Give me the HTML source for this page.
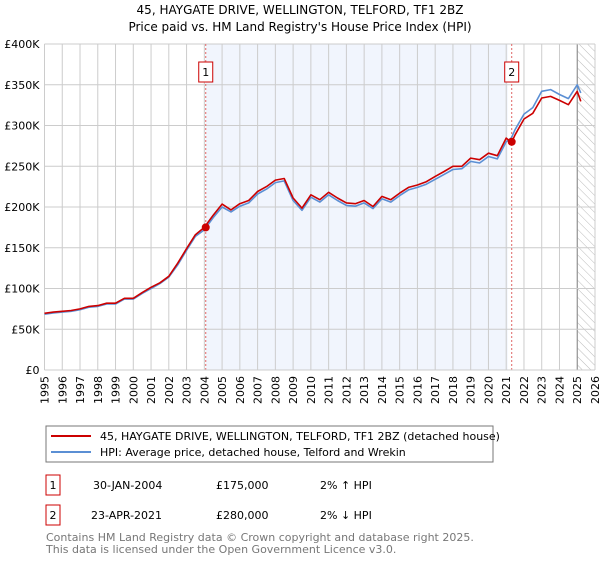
<!DOCTYPE html>
<html><head><meta charset="utf-8">
<style>
body{margin:0;background:#fff;font-family:"Liberation Sans","DejaVu Sans",sans-serif;}
svg text{font-family:"DejaVu Sans","Liberation Sans",sans-serif;}
</style></head>
<body>
<svg id="chart" width="600" height="560" xmlns="http://www.w3.org/2000/svg">
<rect width="600" height="560" fill="#fff"/>
<text x="300" y="14" font-size="12" text-anchor="middle">45, HAYGATE DRIVE, WELLINGTON, TELFORD, TF1 2BZ</text>
<text x="300" y="31" font-size="12" text-anchor="middle">Price paid vs. HM Land Registry's House Price Index (HPI)</text>
<g id="plot"></g>
<g>
<rect x="46" y="426" width="447" height="36" fill="#fff" stroke="#777"/>
<line x1="51" y1="436" x2="91" y2="436" stroke="#cc0000" stroke-width="2"/>
<text x="100" y="440" font-size="11">45, HAYGATE DRIVE, WELLINGTON, TELFORD, TF1 2BZ (detached house)</text>
<line x1="51" y1="452" x2="91" y2="452" stroke="#5b8fd4" stroke-width="2"/>
<text x="100" y="456" font-size="11">HPI: Average price, detached house, Telford and Wrekin</text>
</g>
<g font-size="11">
<rect x="46" y="475" width="14" height="20" fill="#fff" stroke="#cc0000"/>
<text x="53" y="489" text-anchor="middle">1</text>
<text x="93" y="489">30-JAN-2004</text>
<text x="216" y="489">£175,000</text>
<text x="320" y="489">2% ↑ HPI</text>
<rect x="46" y="505" width="14" height="20" fill="#fff" stroke="#cc0000"/>
<text x="53" y="519" text-anchor="middle">2</text>
<text x="91" y="519">23-APR-2021</text>
<text x="216" y="519">£280,000</text>
<text x="320" y="519">2% ↓ HPI</text>
</g>
<text x="46" y="541" font-size="11" fill="#777">Contains HM Land Registry data © Crown copyright and database right 2025.</text>
<text x="46" y="553" font-size="11" fill="#777">This data is licensed under the Open Government Licence v3.0.</text>
</svg>
<script>
const years=[1995,1995.5,1996,1996.5,1997,1997.5,1998,1998.5,1999,1999.5,2000,2000.5,2001,2001.5,2002,2002.5,2003,2003.5,2004,2004.5,2005,2005.5,2006,2006.5,2007,2007.5,2008,2008.5,2009,2009.5,2010,2010.5,2011,2011.5,2012,2012.5,2013,2013.5,2014,2014.5,2015,2015.5,2016,2016.5,2017,2017.5,2018,2018.5,2019,2019.5,2020,2020.5,2021,2021.3,2021.5,2022,2022.5,2023,2023.5,2024,2024.5,2025,2025.2];
const priceSeries=[69.6,71,72,73,75,78,79,82,82,88,88,95,101.5,107,115,131,149,166,175,190,203.5,196.5,204,208,219,225,233,235,211,198.6,215,209,218,211,205,204,208,200.6,213,209,217,224,227,231,237.5,243.6,250,250,260,258,266,263,284.5,279,288.6,308,315,333.7,335.7,330.8,325.5,342,329.6];
const hpiSeries=[68.5,70,71,72,74,77,78,81,81,87,87,94,100,106,114,129,147,164,172,187,200,194,201,205,216,222,230,232,208,196,212,206,215,208,202,201,205,198,210,206,214,221,224,228,234,240,246,247,256,254,262,259,280,285,295,314,322,342,344,338,333,350,340];
const sales=[{t:2004.08,v:175},{t:2021.31,v:280}];
const yTicks=[0,50,100,150,200,250,300,350,400];
const xTicks=[];for(let y=1995;y<=2026;y++)xTicks.push(y);
const X0=44.5,X1=595,Y0=370,Y1=44;
const x=t=>X0+(t-1995)/31*(X1-X0);
const y=v=>Y0-v/400*(Y0-Y1);
const NS="http://www.w3.org/2000/svg";
const g=document.getElementById('plot');
function el(tag,a,parent){const e=document.createElementNS(NS,tag);for(const k in a)e.setAttribute(k,a[k]);(parent||g).appendChild(e);return e;}
const sh=el('rect',{x:x(sales[0].t),y:Y1,width:x(sales[1].t)-x(sales[0].t)-4,height:Y0-Y1,fill:'#eef3fc',opacity:0.8});


const defs=el('defs',{});
const pat=el('pattern',{id:'hatch',patternUnits:'userSpaceOnUse',width:6,height:6,patternTransform:'rotate(-45)'},defs);
el('line',{x1:0,y1:0,x2:0,y2:6,stroke:'#bbb','stroke-width':1},pat);
const ht=el('rect',{x:x(2025),y:Y1,width:X1-x(2025),height:Y0-Y1,fill:'url(#hatch)'});


xTicks.forEach(t=>{
 const l=el('line',{x1:x(t),y1:Y1,x2:x(t),y2:Y0,stroke:'#ccc','stroke-width':1});
 
 
 const tx=el('text',{x:0,y:0,'font-size':11,'text-anchor':'end',transform:`translate(${x(t)+4},${Y0+6}) rotate(-90)`});
 tx.textContent=t;
 
 
});
el('line',{x1:x(2025),y1:Y1,x2:x(2025),y2:Y0,stroke:'#888','stroke-width':1});
yTicks.forEach(v=>{
 const l=el('line',{x1:X0,y1:y(v),x2:X1,y2:y(v),stroke:'#ccc','stroke-width':1});
 
 
 const tx=el('text',{x:X0-5,y:y(v)+4,'font-size':11,'text-anchor':'end'});
 tx.textContent=v===0?'£0':'£'+v+'K';
 
 
});
sales.forEach((s,i)=>{
 const l=el('line',{x1:x(s.t),y1:Y1,x2:x(s.t),y2:Y0,stroke:'#e06666','stroke-width':1,'stroke-dasharray':'2,2'});
 
 
 const bx=el('rect',{x:x(s.t)-7,y:62,width:14,height:20,fill:'#fff',stroke:'#cc0000'});
 
 
 const tx=el('text',{x:x(s.t),y:76,'font-size':11,'text-anchor':'middle'});
 tx.textContent=i+1;
});
function path(vals,color,name){
 const d=vals.map((v,i)=>(i?'L':'M')+x(years[i]).toFixed(1)+','+y(v).toFixed(1)).join('');
 const p=el('path',{d:d,fill:'none',stroke:color,'stroke-width':1.6,'stroke-linejoin':'round'});
 
 
}
path(hpiSeries,'#5b8fd4','hpi-line');
path(priceSeries,'#cc0000','price-line');
sales.forEach(s=>{
 const c=el('circle',{cx:x(s.t),cy:y(s.v),r:4,fill:'#cc0000'});
 
 
});
el('line',{x1:X0,y1:Y0,x2:X1,y2:Y0,stroke:'#ccc'});
</script>
</body></html>
